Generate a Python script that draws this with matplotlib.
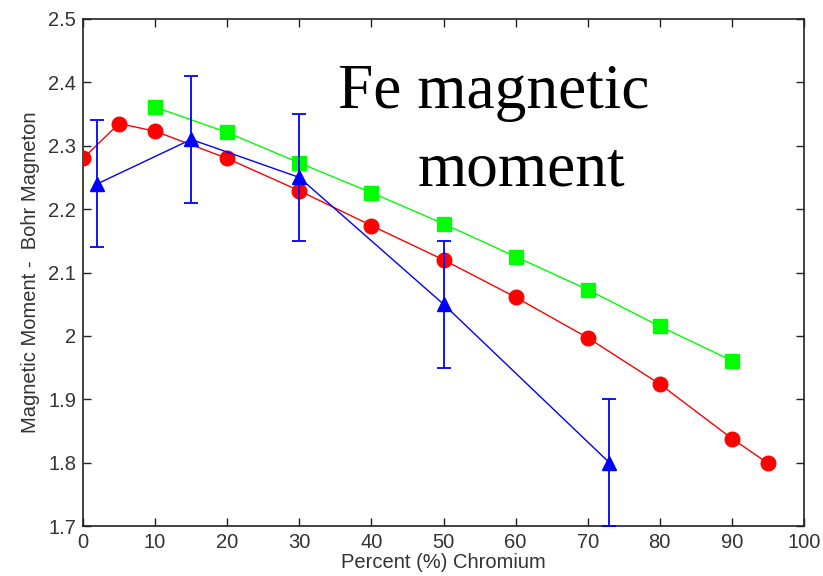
import matplotlib
matplotlib.use("Agg")
import matplotlib.pyplot as plt

# Data
red_x = [0, 5, 10, 20, 30, 40, 50, 60, 70, 80, 90, 95]
red_y = [2.28, 2.335, 2.323, 2.28, 2.229, 2.174, 2.12, 2.061, 1.997, 1.924, 1.838, 1.799]

green_x = [10, 20, 30, 40, 50, 60, 70, 80, 90]
green_y = [2.361, 2.321, 2.273, 2.226, 2.177, 2.125, 2.073, 2.015, 1.961]

blue_x = [2, 15, 30, 50, 73]
blue_y = [2.24, 2.31, 2.25, 2.05, 1.80]
blue_err = [0.10, 0.10, 0.10, 0.10, 0.10]

x_ticks = [0, 10, 20, 30, 40, 50, 60, 70, 80, 90, 100]
y_ticks = [1.7, 1.8, 1.9, 2.0, 2.1, 2.2, 2.3, 2.4, 2.5]
y_labels = ["1.7", "1.8", "1.9", "2", "2.1", "2.2", "2.3", "2.4", "2.5"]

plt.rcParams['font.family'] = ['Liberation Sans', 'DejaVu Sans']

fig = plt.figure(figsize=(8.23, 5.76), dpi=100)
ax = fig.add_axes([83/823, 1 - 526/576, (804-83)/823, (526-19)/576])

ax.plot(green_x, green_y, color='#00ff00', lw=1, marker='s', ms=10, mec='#00ff00', mfc='#00ff00', zorder=3)
ax.plot(red_x, red_y, color='#ff0000', lw=1, marker='o', ms=10.5, mec='#ff0000', mfc='#ff0000', zorder=3)
ax.errorbar(blue_x, blue_y, yerr=blue_err, color='#0000ff', lw=1, marker='^', ms=9.5,
            elinewidth=1.3, capsize=5, capthick=1.3, zorder=4, clip_on=False)

ax.set_xlim(0, 100)
ax.set_ylim(1.7, 2.5)
ax.set_xticks(x_ticks)
ax.set_xticklabels([str(v) for v in x_ticks])
ax.set_yticks(y_ticks)
ax.set_yticklabels(y_labels)
ax.tick_params(direction='in', top=True, right=True, length=6, width=1,
               labelsize=14.5, colors='#222222', pad=5)
ax.tick_params(axis='x', labelcolor='#333333')
ax.tick_params(axis='y', labelcolor='#333333')
for s in ax.spines.values():
    s.set_linewidth(1.2)
    s.set_color('#222222')

ax.set_xlabel('Percent (%) Chromium', fontsize=14.5, color='#333333', labelpad=1)
ax.set_ylabel('Magnetic Moment -  Bohr Magneton', fontsize=14.5, color='#333333', labelpad=6)

fig.text(338/823, 1 - 108/576, 'Fe magnetic', family='Liberation Serif', fontsize=45.5,
         color='black', ha='left', va='baseline')
fig.text(418/823, 1 - 185/576, 'moment', family='Liberation Serif', fontsize=45.5,
         color='black', ha='left', va='baseline')

fig.savefig('out.png', dpi=100)
